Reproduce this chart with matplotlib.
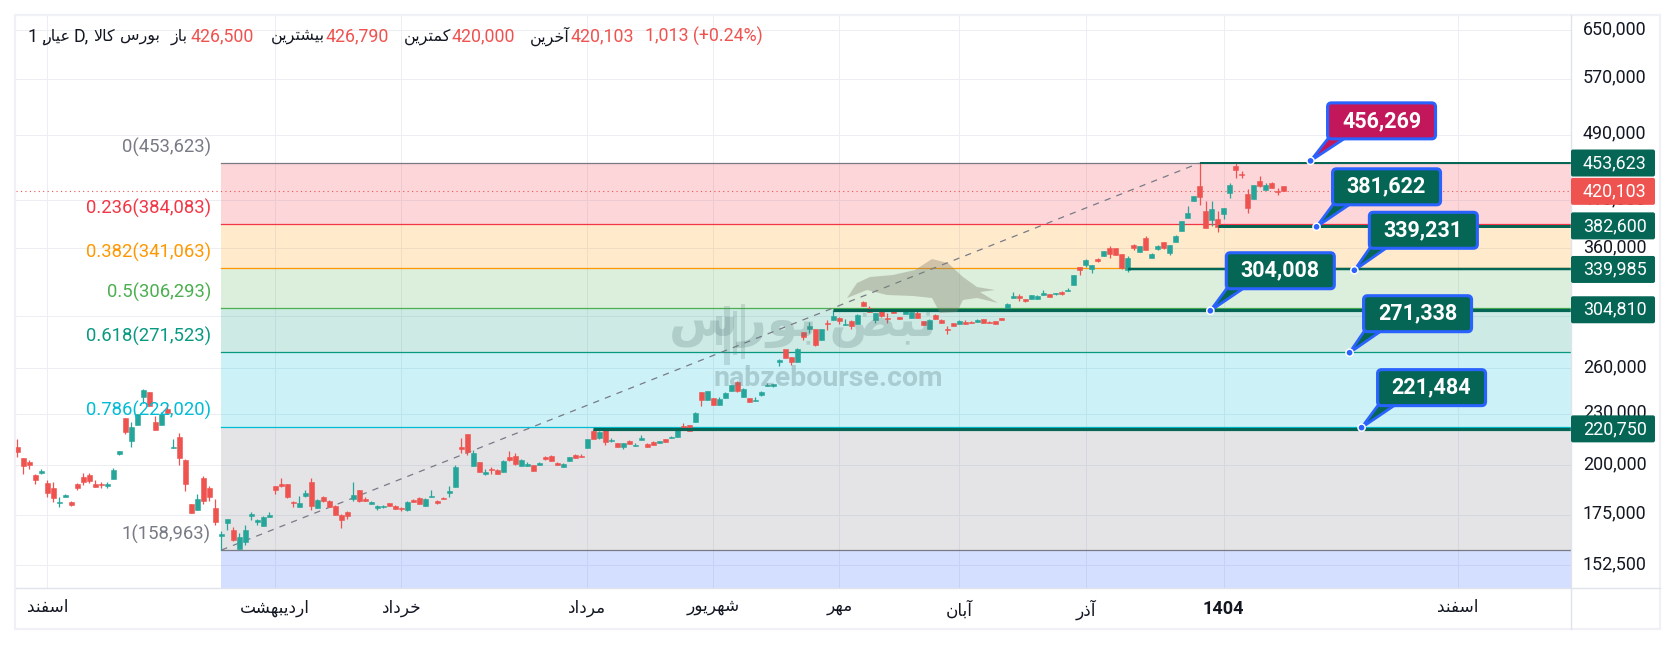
import numpy as np
import matplotlib
matplotlib.use("Agg")
import matplotlib.pyplot as plt
from matplotlib.patches import FancyBboxPatch, Polygon, Circle, Rectangle
from matplotlib.transforms import ScaledTranslation

plt.rcParams['font.family'] = ['Roboto', 'DejaVu Sans']

# ---------- data (prices in thousands) ----------
opens = [210.2,203.9,201.8,194.9,195.8,190.6,188.0,180.5,183.5,181.0,
190.1,193.7,194.7,190.1,190.1,189.1,192.6,206.1,227.3,213.6,
223.0,240.6,243.9,224.8,223.0,232.9,209.6,215.9,202.9,180.0,
177.1,193.2,188.0,178.1,165.1,171.0,167.8,159.4,162.4,174.3,
171.5,169.6,173.8,189.1,190.1,190.1,181.0,178.6,184.0,191.1,
178.0,183.5,181.5,179.1,174.8,176.2,182.5,187.0,182.5,180.0,
178.1,178.6,180.5,179.1,178.1,177.1,182.0,183.0,179.3,183.5,
181.5,183.0,185.5,188.6,210.1,217.6,199.6,201.7,195.3,198.0,
197.5,196.3,204.5,205.0,199.6,199.6,200.1,200.1,204.5,205.0,
201.2,199.0,202.3,205.6,205.0,209.8,219.4,215.3,220.0,213.5,
212.4,210.1,213.5,210.7,214.1,211.8,213.0,212.4,214.7,215.3,
215.9,222.3,223.0,224.8,243.9,238.6,239.9,235.4,239.9,244.5,
250.6,240.6,239.9,238.0,242.0,248.0,248.0,264.5,274.1,268.2,
264.5,287.0,289.3,289.3,280.8,294.0,296.4,298.1,292.4,295.6,
293.2,311.2,306.2,296.4,304.6,298.1,305.5,298.9,301.3,298.1,
302.1,295.6,289.3,300.5,296.4,289.3,294.0,293.2,294.8,294.8,
294.8,297.3,294.8,295.6,298.1,304.6,314.6,316.3,313.8,313.5,
313.8,317.2,318.0,318.0,319.8,320.6,325.9,342.2,344.0,340.4,
349.7,352.6,360.3,360.3,354.5,339.5,363.2,356.7,370.2,350.6,
359.3,366.2,355.4,366.2,377.2,390.8,409.2,426.2,398.3,388.6,
389.7,395.0,418.2,449.9,440.3,417.0,411.5,432.0,421.7,429.7,
420.5,426.5]
highs = [214.7,203.9,202.9,195.3,197.9,192.0,191.1,183.5,185.0,181.5,
190.4,195.8,195.8,192.1,191.1,191.1,198.4,207.8,227.3,224.8,
229.8,245.9,243.9,228.5,231.0,236.7,214.7,218.2,203.4,180.0,
185.0,194.2,189.1,182.5,167.3,172.9,169.1,166.4,170.1,176.2,
172.9,174.3,176.2,189.1,193.2,190.1,181.5,184.0,187.0,193.2,
182.5,184.0,182.0,179.5,175.2,176.7,191.1,187.0,183.5,181.5,
179.5,179.5,180.5,179.5,178.6,181.5,182.5,183.6,183.2,187.0,
181.9,183.5,189.1,200.1,215.3,217.6,208.4,201.7,198.0,199.0,
198.0,202.9,207.8,206.7,203.4,201.7,200.1,201.7,205.0,205.6,
201.7,201.2,204.5,206.2,206.2,214.7,220.6,219.4,220.0,215.3,
212.4,212.4,214.1,212.4,217.0,212.4,213.5,213.5,214.7,216.4,
220.0,224.2,223.0,231.0,243.9,244.5,239.9,240.6,243.9,248.6,
251.2,246.5,239.9,240.6,244.5,249.9,249.2,266.7,274.1,268.2,
274.9,287.0,294.8,289.3,289.3,296.4,305.0,298.9,297.3,296.4,
301.3,312.1,307.9,302.1,304.6,302.1,305.5,298.9,304.6,302.9,
303.8,295.6,297.3,301.3,297.3,291.7,294.0,296.4,296.4,295.6,
297.3,297.3,295.6,295.6,298.1,310.4,319.8,318.0,313.8,317.2,
317.2,321.5,318.0,318.9,320.6,323.2,334.9,342.2,349.7,344.0,
350.6,357.4,362.3,360.3,354.5,352.4,364.2,362.3,372.2,355.4,
363.2,366.2,363.2,373.2,388.0,403.7,414.8,453.6,409.2,409.2,
398.3,401.5,429.7,454.5,443.9,422.8,427.4,438.0,429.7,430.9,
424.0,426.79]
lows = [204.6,195.4,198.1,190.1,195.1,183.6,181.2,178.6,183.3,179.1,
187.0,189.6,190.6,188.5,188.0,188.0,192.6,205.6,217.6,210.2,
223.0,236.7,234.7,220.0,223.0,229.8,209.6,200.1,186.5,175.7,
177.1,180.0,181.5,170.1,159.0,167.8,162.9,159.4,161.1,172.4,
170.1,169.6,173.8,184.9,188.5,183.0,178.6,178.6,183.5,177.1,
178.0,181.0,178.6,174.8,168.9,172.9,181.5,181.0,181.5,180.0,
177.1,178.1,179.1,177.6,176.7,176.7,181.0,180.3,179.0,183.5,
180.3,182.5,183.5,188.6,206.7,205.6,199.6,196.3,194.8,195.3,
195.3,196.3,202.3,200.1,199.6,199.6,196.9,200.1,202.9,202.3,
200.1,199.0,202.3,204.0,204.5,209.8,214.7,214.7,211.3,213.0,
210.1,209.0,211.8,210.7,214.1,210.1,211.3,212.4,213.0,215.3,
215.9,220.6,219.4,224.8,234.8,238.6,235.4,235.4,239.9,244.5,
243.9,240.6,237.4,238.0,241.3,248.0,247.3,261.7,267.5,262.4,
264.5,280.8,286.2,276.2,280.8,288.5,296.4,293.2,292.4,289.3,
293.2,307.9,302.9,294.0,298.9,294.0,302.1,297.3,301.3,298.1,
298.1,292.4,289.3,297.3,294.0,285.4,291.7,293.2,293.2,294.0,
294.8,294.0,294.0,293.2,296.4,304.6,314.6,312.1,311.2,313.5,
313.8,317.2,315.5,317.2,317.2,320.6,325.9,334.9,342.2,336.7,
346.9,352.6,350.6,353.5,340.1,337.9,358.4,356.7,358.4,350.6,
358.4,359.3,353.5,366.2,377.2,390.8,409.2,404.8,380.4,382.4,
376.2,389.7,412.6,435.8,435.8,396.1,411.5,425.0,421.7,424.0,
415.9,420.0]
closes = [207.3,199.6,200.1,192.1,197.0,185.5,183.0,181.0,184.5,179.5,
188.0,191.1,191.6,188.5,189.6,190.1,197.4,207.8,218.8,221.8,
229.8,245.2,234.7,220.0,229.8,230.4,210.2,203.9,190.1,175.7,
182.5,181.5,183.5,171.5,166.0,172.9,163.3,164.6,167.8,175.2,
172.4,173.8,175.0,187.0,189.1,183.5,180.5,180.5,185.5,179.1,
182.0,181.5,178.6,174.8,172.4,174.3,184.5,181.5,181.5,181.0,
179.1,179.1,179.1,177.6,177.6,181.0,181.0,180.3,182.5,184.0,
180.5,182.5,186.5,199.0,209.0,207.3,206.7,196.3,196.3,197.5,
195.3,202.6,202.9,200.6,202.9,200.6,196.9,201.2,203.4,202.3,
200.1,200.6,204.5,204.0,204.5,214.7,214.7,218.8,213.0,214.1,
210.1,212.4,211.8,211.3,215.3,210.1,211.3,213.5,213.0,215.9,
220.0,221.2,219.4,230.4,238.6,244.5,235.4,239.3,243.2,248.6,
244.5,245.8,237.4,238.6,243.9,248.6,249.2,266.0,267.5,264.5,
274.1,283.1,291.7,276.9,289.3,293.2,299.6,295.6,293.2,291.7,
300.5,307.9,302.9,302.1,299.6,297.3,302.1,297.3,303.8,302.9,
298.1,292.4,296.4,297.3,294.0,288.5,291.7,295.6,293.2,294.0,
296.4,294.0,294.0,293.2,296.4,309.6,316.3,314.6,312.1,317.2,
316.3,318.9,315.5,318.9,318.0,321.5,334.9,339.5,348.8,344.0,
347.8,357.4,354.5,353.5,341.0,350.6,360.3,362.3,358.4,354.5,
362.3,360.3,363.2,372.2,387.6,396.1,414.8,413.7,380.4,400.5,
381.4,401.5,427.4,445.0,439.1,401.5,427.4,426.2,427.4,424.0,
419.3,420.103]

price_ticks = [650000, 570000, 490000, 410000, 360000, 300000, 260000, 230000, 200000, 175000, 152500]
month_pos = [5, 43, 64, 95, 116, 137, 157, 178, 201, 240]
month_names = ['اسفند', 'اردیبهشت', 'خرداد', 'مرداد', 'شهریور', 'مهر', 'آبان', 'آذر', '1404', 'اسفند']

fib_ratios = ['0', '0.236', '0.382', '0.5', '0.618', '0.786', '1']
fib_prices = [453623, 384083, 341063, 306293, 271523, 222020, 158963]
fib_colors = ['#787B86', '#F23645', '#FF9800', '#4CAF50', '#089981', '#00BCD4', '#787B86']
fib_below = '#2962FF'
fib_start = 34
fib_end = 197

level_prices = [453623, 382600, 339985, 304810, 220750]
level_starts = [197, 200, 185, 136, 96]
level_widths = [2.0, 3.0, 2.5, 3.2, 3.2]

last_price = 420103

callout_values = [456269, 381622, 339231, 304008, 271338, 221484]
callout_bars = [215.5, 216.5, 222.8, 198.8, 222, 224]
callout_colors = ['#C2185B', '#056656', '#056656', '#056656', '#056656', '#056656']
callout_gaps = [(17, 22), (16, 22), (15, 22), (16, 22), (14, 21), (16, 22)]

# ---------- persian shaping ----------
FORMS = {
 'ا': (0xFE8D, 0xFE8E, None, None), 'آ': (0xFE81, 0xFE82, None, None),
 'ب': (0xFE8F, 0xFE90, 0xFE91, 0xFE92), 'ت': (0xFE95, 0xFE96, 0xFE97, 0xFE98),
 'خ': (0xFEA5, 0xFEA6, 0xFEA7, 0xFEA8), 'د': (0xFEA9, 0xFEAA, None, None),
 'ذ': (0xFEAB, 0xFEAC, None, None), 'ر': (0xFEAD, 0xFEAE, None, None),
 'ز': (0xFEAF, 0xFEB0, None, None), 'س': (0xFEB1, 0xFEB2, 0xFEB3, 0xFEB4),
 'ش': (0xFEB5, 0xFEB6, 0xFEB7, 0xFEB8), 'ع': (0xFEC9, 0xFECA, 0xFECB, 0xFECC),
 'ف': (0xFED1, 0xFED2, 0xFED3, 0xFED4), 'ک': (0xFB8E, 0xFB8F, 0xFB90, 0xFB91),
 'ل': (0xFEDD, 0xFEDE, 0xFEDF, 0xFEE0), 'م': (0xFEE1, 0xFEE2, 0xFEE3, 0xFEE4),
 'ن': (0xFEE5, 0xFEE6, 0xFEE7, 0xFEE8), 'و': (0xFEED, 0xFEEE, None, None),
 'ه': (0xFEE9, 0xFEEA, 0xFEEB, 0xFEEC), 'ی': (0xFBFC, 0xFBFD, 0xFBFE, 0xFBFF),
 'ض': (0xFEBD, 0xFEBE, 0xFEBF, 0xFEC0),
}

def shape(word):
    if not any(c in FORMS for c in word):
        return word
    out = []
    i = 0
    while i < len(word):
        c = word[i]
        if c not in FORMS:
            out.append(c)
            i += 1
            continue
        prev = word[i - 1] if i else ''
        joins_prev = prev in FORMS and FORMS[prev][2] is not None
        nxt = word[i + 1] if i + 1 < len(word) else ''
        if c == 'ل' and nxt == 'ا':
            out.append(chr(0xFEFC if joins_prev else 0xFEFB))
            i += 2
            continue
        joins_next = nxt in FORMS and FORMS[c][2] is not None
        iso, fin, ini, med = FORMS[c]
        if joins_prev and joins_next:
            out.append(chr(med))
        elif joins_prev:
            out.append(chr(fin))
        elif joins_next:
            out.append(chr(ini))
        else:
            out.append(chr(iso))
        i += 1
    return ''.join(reversed(out))

# ---------- figure ----------
W, H = 1676, 645
fig = plt.figure(figsize=(W / 100, H / 100), dpi=100, facecolor='white')
L, R, T, B = 16, 1571, 15, 588
ax = fig.add_axes([L / W, 1 - B / H, (R - L) / W, (B - T) / H])
ax.set_yscale('log')
ax.set_ylim(143440, 677400)
ax.set_xlim(-0.217, 258.9)
for s in ax.spines.values():
    s.set_visible(False)
ax.set_axisbelow(True)
ax.grid(True, color='#eceef3', lw=0.72)
ax.yaxis.tick_right()
ax.minorticks_off()
ax.set_yticks(price_ticks)
ax.set_yticklabels([f'{p:,}' for p in price_ticks], fontsize=12.9, color='#131722')
ax.yaxis.set_minor_locator(matplotlib.ticker.NullLocator())
ax.set_xticks(month_pos)
ax.set_xticklabels([shape(m) for m in month_names], fontsize=12.2, color='#131722')
ax.tick_params(axis='y', length=0, pad=8.6)
ax.tick_params(axis='x', length=0, pad=8.5)
ax.get_xticklabels()[8].set_fontweight('bold')
ax.get_xticklabels()[8].set_fontsize(13)
up = ScaledTranslation(0, 3 / 100, fig.dpi_scale_trans)
for tick in ax.yaxis.get_major_ticks():
    tick.label2.set_transform(tick.label2.get_transform() + up)

# fib zones: each band takes the colour of its lower level
xmax = ax.get_xlim()[1]
edges = fib_prices + [143440]
zone_colors = fib_colors[1:] + [fib_below]
for k in range(len(fib_prices)):
    ax.fill_between([fib_start, xmax], edges[k], edges[k + 1], color=zone_colors[k], alpha=0.2, lw=0, zorder=1)
for p, c, r in zip(fib_prices, fib_colors, fib_ratios):
    ax.plot([fib_start, xmax], [p, p], color=c, lw=0.9, zorder=1.5)
    ax.annotate(f'{r}({p:,})', (fib_start, p), xytext=(-7.5, 11.5), textcoords='offset points',
                ha='right', va='center', color=c, fontsize=13.3, zorder=6)
ax.plot([fib_start, fib_end], [fib_prices[-1], fib_prices[0]], color='#787B86', lw=0.9, ls=(0, (5, 5)), zorder=2)

# last price
ax.axhline(last_price, color='#EF5350', lw=0.8, ls=(0, (1, 3)), zorder=2)

# candles
o = np.array(opens) * 1000
h = np.array(highs) * 1000
l = np.array(lows) * 1000
c = np.array(closes) * 1000
idx = np.arange(len(o))
colors = np.where(c >= o, '#26A69A', '#EF5350')
ax.vlines(idx, l, h, colors=colors, lw=0.9, zorder=3)
ax.bar(idx, np.abs(c - o), bottom=np.minimum(o, c), width=0.8, color=colors, edgecolor=colors, lw=0.4, zorder=3.1)

# horizontal levels
for p, s, w in zip(level_prices, level_starts, level_widths):
    ax.plot([s, xmax], [p, p], color='#056656', lw=w * 0.72, zorder=4, solid_capstyle='butt')

# ---------- overlay in pixels ----------
ov = fig.add_axes([0, 0, 1, 1], zorder=10)
ov.set_xlim(0, W)
ov.set_ylim(H, 0)
ov.axis('off')
ov.patch.set_alpha(0)

def to_px(x, y):
    return ov.transData.inverted().transform(ax.transData.transform((x, y)))

# watermark
bull = [(847,298),(857,283),(870,277),(893,275),(915,270),(932,259),(948,263),(963,277),(977,287),(995,290),
        (980,292),(998,303),(977,298),(963,300),(957,312),(940,313),(932,298),(913,296),(887,295),(867,290)]
ov.add_patch(Polygon(bull, closed=True, facecolor='#84826f', alpha=0.38, lw=0, zorder=2))
ov.text(803, 325, shape('نبض بورس'), fontsize=36, fontweight='bold', color='#5f7f80', alpha=0.27,
        ha='center', va='center', zorder=2)
for xs, y0, y1, hw in [(719, 316, 345, 3), (727, 306, 365, 3), (735, 311, 355, 2), (743, 304, 359, 2)]:
    ov.add_patch(Rectangle((xs - hw, y0), 2 * hw, y1 - y0, facecolor='#5f7f80', alpha=0.22, lw=0, zorder=2))
ov.text(828, 379, 'nabzebourse.com', fontsize=20.5, fontweight='bold', color='#5f7f80', alpha=0.32,
        ha='center', va='center', zorder=2)

# frame
frame = '#eff1f6'
ov.add_patch(Rectangle((15, 15), 1645, 614, fill=False, edgecolor=frame, lw=1.6, zorder=3))
ov.plot([16, 1660], [588, 588], color='#e0e3eb', lw=1.0, zorder=3)
ov.plot([1571, 1571], [15, 629], color='#e0e3eb', lw=1.0, zorder=3)

# price badges
for p, col in zip(level_prices + [last_price], ['#056656'] * 5 + ['#EF5350']):
    _, yy = to_px(0, p)
    ov.add_patch(FancyBboxPatch((1571, yy - 13.5), 84, 27, boxstyle='round,pad=0,rounding_size=2',
                                facecolor=col, edgecolor='none', zorder=4))
    ov.text(1583, yy, f'{p:,}', color='white', fontsize=12.9, ha='left', va='center', zorder=5)

# callouts
BW, BH = 108, 36
for v, b, col, (dx, gap) in zip(callout_values, callout_bars, callout_colors, callout_gaps):
    ax_, ay_ = to_px(b, v)
    bl, bb = ax_ + dx, ay_ - gap
    tail = [(ax_, ay_), (bl + 1, bb - 1), (bl + 18, bb - 1)]
    ov.add_patch(Polygon(tail, closed=True, facecolor=col, edgecolor='#2962FF', lw=2.0, joinstyle='round', zorder=6))
    ov.add_patch(FancyBboxPatch((bl, bb - BH), BW, BH, boxstyle='round,pad=0,rounding_size=4',
                                facecolor=col, edgecolor='#2962FF', lw=2.2, zorder=7))
    ov.add_patch(Circle((ax_, ay_), 3.6, facecolor='#2962FF', edgecolor='white', lw=1.1, zorder=8))
    ov.text(bl + BW / 2, bb - BH / 2, f'{v:,}', color='white', fontsize=15.5, fontweight='bold',
            ha='center', va='center', zorder=9)

# header
DARK, RED = '#131722', '#EF5350'
Y = 36.5
for txt, x, ha, col, fs in [
    ('1 ,', 28, 'left', DARK, 12.8), (shape('عیار'), 71, 'right', DARK, 11.5), ('D,', 73, 'left', DARK, 12.8),
    (shape('کالا'), 115, 'right', DARK, 11.5), (shape('بورس'), 160, 'right', DARK, 11.5), (shape('باز'), 188, 'right', DARK, 11.5),
    ('426,500', 190, 'left', RED, 12.8), (shape('بیشترین'), 325, 'right', DARK, 11.5), ('426,790', 325, 'left', RED, 12.8),
    (shape('کمترین'), 451, 'right', DARK, 11.5), ('420,000', 451, 'left', RED, 12.8), (shape('آخرین'), 570, 'right', DARK, 11.5),
    ('420,103', 570, 'left', RED, 12.8), ('1,013 (+0.24%)', 645, 'left', RED, 12.8)]:
    ov.text(x, Y, txt, color=col, fontsize=fs, ha=ha, va='center', zorder=5)

fig.savefig('out.png', dpi=100)
